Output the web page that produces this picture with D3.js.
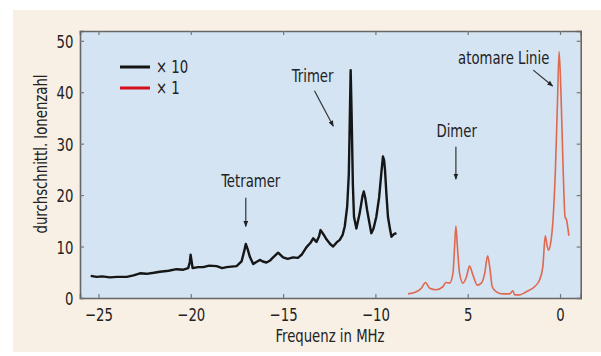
<!DOCTYPE html>
<html>
<head>
<meta charset="utf-8">
<script src="https://cdn.jsdelivr.net/npm/d3@7"></script>
<style>
  body { margin: 0; background: #fff; }
  svg text { font-family: "DejaVu Sans Condensed", "Liberation Sans Narrow", sans-serif; fill: #222; }
</style>
</head>
<body>
<svg id="chart" width="601" height="356"></svg>
<script>
// spectre x10 (noir) : frequence MHz, ions
const freqNoir = [-25.42, -25.1, -24.8, -24.38, -24.0, -23.47, -23.1, -22.75, -22.4, -22.0, -21.67, -21.2, -20.77, -20.4, -20.14, -20.05, -20.01, -19.95, -19.9, -19.6, -19.33, -19.0, -18.6, -18.3, -18.06, -17.8, -17.52, -17.25, -17.1, -17.02, -16.92, -16.8, -16.62, -16.45, -16.26, -16.1, -15.9, -15.7, -15.54, -15.27, -15.0, -14.75, -14.46, -14.2, -14.0, -13.73, -13.5, -13.37, -13.19, -13.05, -12.97, -12.8, -12.65, -12.45, -12.29, -12.1, -11.93, -11.78, -11.66, -11.53, -11.44, -11.38, -11.34, -11.29, -11.22, -11.16, -11.03, -10.85, -10.7, -10.63, -10.55, -10.45, -10.32, -10.22, -10.1, -9.95, -9.8, -9.66, -9.59, -9.53, -9.48, -9.4, -9.32, -9.2, -9.13, -9.0, -8.86];
const ionsNoir = [4.3, 4.1, 4.2, 4.0, 4.1, 4.1, 4.4, 4.8, 4.7, 4.9, 5.1, 5.3, 5.6, 5.5, 5.8, 7.0, 8.4, 7.0, 5.8, 6.0, 6.0, 6.3, 6.2, 5.8, 6.0, 6.1, 6.2, 7.1, 9.2, 10.5, 9.5, 8.0, 6.6, 7.0, 7.4, 7.1, 6.9, 7.3, 7.9, 8.8, 7.9, 7.6, 7.9, 7.8, 8.4, 9.9, 10.8, 11.6, 10.9, 12.0, 13.2, 12.3, 11.4, 10.5, 10.0, 10.8, 11.3, 12.2, 13.9, 17.7, 24.0, 36.0, 44.3, 36.0, 22.0, 15.8, 13.5, 16.5, 19.8, 20.7, 19.5, 17.1, 14.5, 12.6, 13.5, 15.8, 19.5, 25.0, 27.5, 26.8, 24.9, 20.0, 15.8, 13.2, 11.9, 12.4, 12.6];

// spectre x1 (rouge)
const freqRouge = [-8.23, -7.78, -7.51, -7.29, -7.06, -6.7, -6.34, -6.19, -5.98, -5.8, -5.71, -5.64, -5.56, -5.44, -5.26, -5.07, -4.9, -4.72, -4.48, -4.26, -4.08, -3.92, -3.81, -3.67, -3.45, -3.09, -2.73, -2.55, -2.46, -2.19, -1.83, -1.38, -1.11, -0.93, -0.8, -0.69, -0.62, -0.51, -0.38, -0.25, -0.14, -0.05, 0.04, 0.17, 0.27, 0.35, 0.48];
const ionsRouge = [0.8, 1.2, 1.9, 3.0, 1.9, 1.6, 2.2, 3.0, 2.9, 4.8, 10.0, 14.0, 10.0, 4.8, 2.9, 4.1, 6.2, 4.5, 2.5, 2.9, 4.8, 8.2, 6.1, 2.2, 1.2, 0.8, 0.8, 1.4, 0.6, 0.6, 1.2, 2.2, 3.5, 6.1, 12.1, 10.0, 9.3, 10.6, 15.2, 24.9, 37.8, 47.9, 41.1, 24.9, 15.8, 15.2, 12.1];

// graduations
const xTicks = [-25, -20, -15, -10, -5, 0];
const xTickLabels = ["\u221225", "\u221220", "\u221215", "\u221210", "5", "0"];
const yTicks = [0, 10, 20, 30, 40, 50];

// legende
const legende = [
  { label: "\u00d7 10", couleur: "#141414" },
  { label: "\u00d7 1", couleur: "#d4101e" }
];

// annotations
const annotations = [
  { texte: "Tetramer", x: -16.75, y: 21.6, x1: -17.02, y1: 19.5, x2: -17.02, y2: 13.9 },
  { texte: "Trimer", x: -13.4, y: 42.0, x1: -13.3, y1: 40.3, x2: -12.28, y2: 33.4 },
  { texte: "Dimer", x: -5.6, y: 31.2, x1: -5.64, y1: 29.4, x2: -5.64, y2: 23.1 },
  { texte: "atomare Linie", x: -3.05, y: 45.4, x1: -1.45, y1: 44.3, x2: -0.4, y2: 41.2 }
];

const etroit = 0.82; // compression horizontale du texte (police condensee)

const svg = d3.select("#chart");

// fond beige
svg.append("rect").attr("x", 13).attr("y", 10).attr("width", 588).attr("height", 342).attr("fill", "#f9f0e5");

const x = d3.scaleLinear().domain([-26, 1.12]).range([80, 580.7]);
const y = d3.scaleLinear().domain([0, 51.9]).range([298, 31]);

// zone du graphe
svg.append("rect")
  .attr("x", x(-26)).attr("y", y(51.9))
  .attr("width", x(1.12) - x(-26)).attr("height", y(0) - y(51.9))
  .attr("fill", "#d4e4f3");

// axes avec ticks vers l'interieur
const axeBas = svg.append("g").attr("transform", `translate(0,${y(0)})`)
  .call(d3.axisBottom(x).tickValues(xTicks).tickSize(-4).tickPadding(8).tickFormat((d, i) => xTickLabels[i]));
const axeHaut = svg.append("g").attr("transform", `translate(0,${y(51.9)})`)
  .call(d3.axisTop(x).tickValues(xTicks).tickSize(-4).tickFormat(""));
const axeGauche = svg.append("g").attr("transform", `translate(${x(-26)},0)`)
  .call(d3.axisLeft(y).tickValues(yTicks).tickSize(-4).tickPadding(8));
const axeDroite = svg.append("g").attr("transform", `translate(${x(1.12)},0)`)
  .call(d3.axisRight(y).tickValues(yTicks).tickSize(-4).tickFormat(""));

[axeBas, axeHaut, axeGauche, axeDroite].forEach((a) => {
  a.select(".domain").attr("stroke", "#666").attr("stroke-width", 1.6);
  a.selectAll(".tick line").attr("stroke", "#777").attr("stroke-width", 1.2);
  a.selectAll(".tick text").style("font-size", "18px").attr("fill", "#222")
    .attr("transform", `scale(${etroit},1)`);
});
axeBas.selectAll(".tick text").attr("dy", "0.85em");
axeGauche.selectAll(".tick text").attr("dy", "0.36em");

// courbes
const ligne = d3.line().x((d) => x(d[0])).y((d) => y(d[1]));

svg.append("path")
  .datum(d3.zip(freqRouge, ionsRouge))
  .attr("d", ligne.curve(d3.curveMonotoneX))
  .attr("fill", "none").attr("stroke", "#e0684f").attr("stroke-width", 1.6);

svg.append("path")
  .datum(d3.zip(freqNoir, ionsNoir))
  .attr("d", ligne.curve(d3.curveLinear))
  .attr("fill", "none").attr("stroke", "#161616").attr("stroke-width", 2.4)
  .attr("stroke-linejoin", "round");

// texte condense
const texte = (px, py, contenu, taille, ancre, rot) => {
  svg.append("g")
    .attr("transform", `translate(${px},${py})` + (rot ? ` rotate(${rot})` : "") + ` scale(${etroit},1)`)
    .append("text")
    .attr("text-anchor", ancre)
    .style("font-size", taille + "px")
    .text(contenu);
};

// legende
legende.forEach((l, i) => {
  svg.append("line")
    .attr("x1", 120).attr("x2", 150)
    .attr("y1", 67 + i * 21).attr("y2", 67 + i * 21)
    .attr("stroke", l.couleur).attr("stroke-width", 3);
  texte(156, 73 + i * 21, l.label, 18, "start");
});

// fleches
svg.append("defs").append("marker")
  .attr("id", "pointe").attr("viewBox", "0 0 10 10")
  .attr("refX", 9).attr("refY", 5)
  .attr("markerWidth", 5).attr("markerHeight", 5)
  .attr("orient", "auto")
  .append("path").attr("d", "M0,1 L10,5 L0,9 z").attr("fill", "#222");

annotations.forEach((a) => {
  texte(x(a.x), y(a.y), a.texte, 18, "middle");
  svg.append("line")
    .attr("x1", x(a.x1)).attr("y1", y(a.y1))
    .attr("x2", x(a.x2)).attr("y2", y(a.y2))
    .attr("stroke", "#333").attr("stroke-width", 1.2)
    .attr("marker-end", "url(#pointe)");
});

// titres des axes
texte(330, 342, "Frequenz in MHz", 18, "middle");
texte(47, 154, "durchschnittl. Ionenzahl", 18, "middle", -90);
</script>
</body>
</html>
